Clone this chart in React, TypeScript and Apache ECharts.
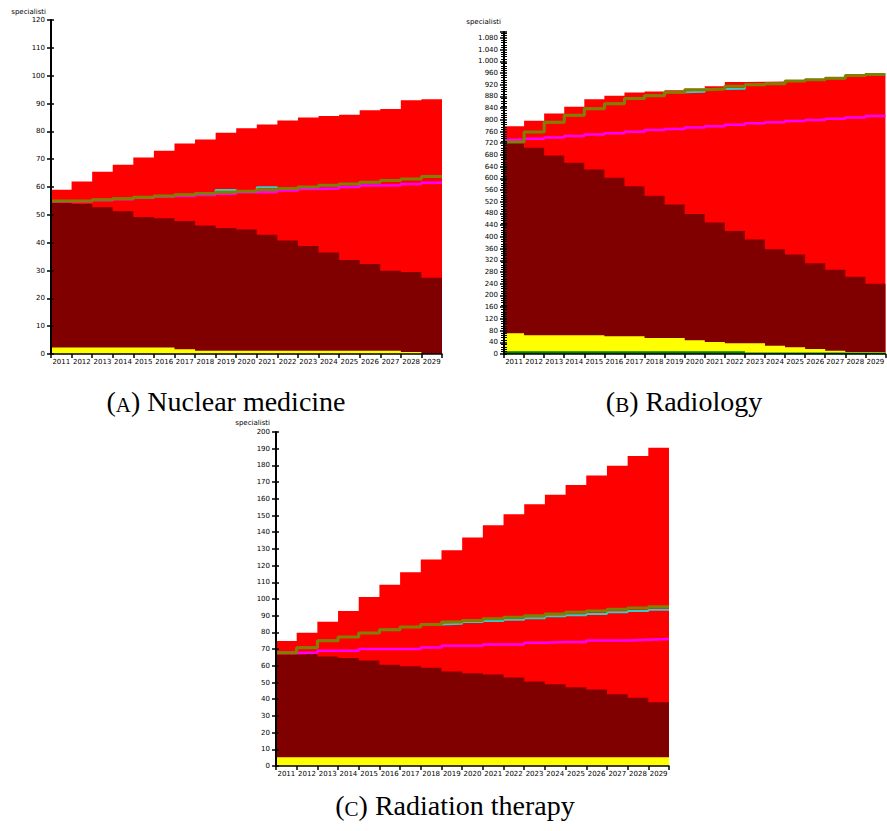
import React, { useEffect, useRef } from "react";
import * as echarts from "echarts";

// ---------- data ----------
const years = ["2011", "2012", "2013", "2014", "2015", "2016", "2017", "2018", "2019", "2020",
  "2021", "2022", "2023", "2024", "2025", "2026", "2027", "2028", "2029"];

// (A) Nuclear medicine
const nmRed = [59, 62, 65.5, 68, 70.6, 73, 75.6, 77.1, 79.5, 81.1, 82.5, 83.9, 85, 85.5, 86, 87.6, 88, 91.2, 91.5];
const nmMaroon = [54.4, 53.9, 52.7, 51.3, 49.2, 48.8, 47.8, 46.2, 45.3, 44.7, 42.8, 40.8, 38.8, 36.5, 33.8, 32.3, 29.9, 29.5, 27.4];
const nmYellow = [2.3, 2.3, 2.3, 2.3, 2.3, 2.3, 1.7, 1.2, 1.2, 1.2, 1.2, 1.2, 1.2, 1.2, 1.2, 1.2, 1.2, 0.7, 0];
const nmOlive = [55, 55, 55.4, 55.8, 56.3, 56.8, 57.2, 57.7, 58.1, 58.5, 59, 59.5, 60, 60.6, 61.1, 61.7, 62.3, 62.9, 63.8];
const nmCyan = [55, 55, 55.4, 55.8, 56.3, 56.8, 57.2, 57.7, 58.9, 58.5, 59.9, 59.5, 60, 60.6, 61.1, 61.7, 62.3, 62.9, 63.8];
const nmMagenta = [54.8, 54.9, 55.2, 55.6, 56.1, 56.5, 56.8, 57.1, 57.6, 58.1, 58.2, 58.7, 59.3, 59.5, 60, 60.5, 60.6, 61.1, 61.5];

// (B) Radiology
const radRed = [778, 797, 822, 845, 870, 882, 893, 897, 901, 906, 915, 929, 930, 931, 931, 935, 940, 949, 952];
const radMaroon = [721, 705, 678, 653, 630, 602, 573, 541, 511, 478, 449, 420, 391, 358, 340, 310, 288, 264, 240];
const radYellow = [71, 64, 64, 64, 64, 60.5, 60.5, 55, 55, 47, 41, 36.5, 36.5, 28.5, 23, 17, 11, 6.5, 6.5];
const radGreen = [9, 9, 9, 9, 9, 9, 9, 9, 9, 9, 9, 9, 5, 5, 5, 5, 5, 5, 5];
const radOlive = [724, 758, 792, 816, 838, 855, 873, 882, 894, 903, 905, 915, 920, 923, 933, 937, 942, 951, 955];
const radCyan = [724, 758, 792, 816, 838, 855, 873, 882, 894, 896, 905, 906, 920, 923, 933, 937, 942, 951, 955];
const radMagenta = [732, 735, 740, 745, 750, 754, 759, 765, 769, 774, 778, 783, 788, 792, 796, 799, 804, 808, 813];

// (C) Radiation therapy
const rtRed = [74.8, 79.8, 86.4, 92.8, 101.2, 108.6, 116, 123.6, 129.2, 136.8, 144.2, 150.8, 156.8, 162.4, 168.2, 174, 179.8, 185.6, 190.6];
const rtMaroon = [66.8, 67, 65.6, 64.6, 63.2, 60.6, 59.8, 58.8, 56.6, 55.6, 54.8, 53, 50.6, 49, 47.2, 45.8, 43, 40.8, 38.2];
const rtYellow = [5.2, 5.2, 5.2, 5.2, 5.2, 5.2, 5.2, 5.2, 5.2, 5.2, 5.2, 5.2, 5.2, 5.2, 5.2, 5.2, 5.2, 5.2, 5.2];
const rtOlive = [67.8, 70.8, 75, 77.2, 79.6, 81.6, 83.2, 84.8, 86.2, 87.2, 88.2, 89, 90, 91, 92, 92.8, 93.8, 94.6, 95.4];
const rtCyan = [67.8, 70.8, 75, 77.2, 79.6, 81.6, 83.2, 84.8, 85.2, 86.2, 86.8, 87.6, 88.4, 89.6, 90.2, 91, 92, 92.8, 93.6];
const rtMagenta = [67.6, 68, 69, 69, 70, 70, 70, 71, 72, 72, 72.8, 72.8, 73.8, 74.2, 74.2, 75.2, 75.2, 75.6, 76];

const axisName = "specialisti";
const captions = [
  { letter: "A", title: " Nuclear medicine" },
  { letter: "B", title: " Radiology" },
  { letter: "C", title: " Radiation therapy" },
];

// ---------- helpers ----------
const fmt = (v: number) =>
  v >= 1000 ? `${Math.floor(v / 1000)}.${String(v % 1000).padStart(3, "0")}` : String(v);

const steps = (vals: number[]) => {
  const pts = vals.map((v, i) => [i, v]);
  pts.push([vals.length, vals[vals.length - 1]]);
  return pts;
};

const COLORS = {
  red: "#ff0000",
  maroon: "#800000",
  yellow: "#ffff00",
  green: "#008000",
  olive: "#808000",
  cyan: "#33cccc",
  magenta: "#ff00ff",
};

const panels = [
  {
    grid: { left: 51, top: 20, width: 391, height: 334 },
    max: 120, interval: 10, minor: false,
    red: nmRed, maroon: nmMaroon, yellow: nmYellow, green: null as number[] | null,
    olive: nmOlive, cyan: nmCyan, magenta: nmMagenta,
    name: { x: 46, y: 12 },
    caption: { x: 226, y: 401 },
  },
  {
    grid: { left: 504, top: 32, width: 393, height: 322 },
    max: 1100, interval: 40, minor: true,
    red: radRed, maroon: radMaroon, yellow: radYellow, green: radGreen,
    olive: radOlive, cyan: radCyan, magenta: radMagenta,
    name: { x: 501, y: 22 },
    caption: { x: 684, y: 401 },
  },
  {
    grid: { left: 276, top: 432, width: 393, height: 334 },
    max: 200, interval: 10, minor: false,
    red: rtRed, maroon: rtMaroon, yellow: rtYellow, green: null as number[] | null,
    olive: rtOlive, cyan: rtCyan, magenta: rtMagenta,
    name: { x: 270, y: 423 },
    caption: { x: 455, y: 805 },
  },
];

function buildOption() {
  const grid: any[] = [];
  const xAxis: any[] = [];
  const yAxis: any[] = [];
  const series: any[] = [];
  const graphic: any[] = [];
  const labelFont = { fontSize: 7, color: "#000", fontFamily: "DejaVu Sans" };

  panels.forEach((p, k) => {
    grid.push({ ...p.grid, containLabel: false });
    xAxis.push({
      gridIndex: k, type: "category", data: years, boundaryGap: true, z: 10,
      axisLine: { show: true, lineStyle: { color: "#000", width: 1.5 } },
      axisTick: { show: true, length: 4, lineStyle: { color: "#000", width: 1.5 } },
      axisLabel: { ...labelFont, interval: 0, margin: 4 },
      splitLine: { show: false },
    });
    xAxis.push({ gridIndex: k, type: "value", min: 0, max: years.length, show: false });
    yAxis.push({
      gridIndex: k, type: "value", position: "left", min: 0, max: p.max, interval: p.interval, z: 10,
      axisLine: { show: true, lineStyle: { color: "#000", width: 2 } },
      axisTick: { show: true, length: 4, lineStyle: { color: "#000", width: 1.5 } },
      minorTick: { show: p.minor, splitNumber: 5, length: 3, lineStyle: { color: "#000", width: 1 } },
      axisLabel: { ...labelFont, margin: 6, formatter: fmt, showMaxLabel: k !== 1 },
      splitLine: { show: false },
      minorSplitLine: { show: false },
    });
    yAxis.push({
      gridIndex: k, type: "value", position: "left", offset: 0, min: 0, max: p.max, interval: p.interval, z: 10,
      axisLine: { show: false, onZero: false },
      axisTick: { show: true, inside: true, length: 3, lineStyle: { color: "#000", width: 1.5 } },
      minorTick: { show: p.minor, splitNumber: 5, length: 3, lineStyle: { color: "#000", width: 1 } },
      axisLabel: { show: false },
      splitLine: { show: false },
    });

    const xv = 2 * k + 1;
    const yi = 2 * k;
    const area = (name: string, data: number[], color: string, z: number) => ({
      name, type: "line", xAxisIndex: xv, yAxisIndex: yi, data: steps(data), step: "end",
      symbol: "none", showSymbol: false,
      lineStyle: { width: 0, color },
      areaStyle: { color, opacity: 1, origin: "start" },
      z, silent: true,
    });
    series.push(area("red", p.red, COLORS.red, 1));
    series.push(area("maroon", p.maroon, COLORS.maroon, 1));
    series.push(area("yellow", p.yellow, COLORS.yellow, 1));
    if (p.green) series.push(area("green", p.green, COLORS.green, 1));

    const line = (name: string, data: number[], color: string, width: number, z: number) => ({
      name, type: "line", xAxisIndex: xv, yAxisIndex: yi, data: steps(data), step: "end",
      symbol: "none", showSymbol: false, lineStyle: { color, width }, z, silent: true,
    });
    series.push(line("magenta", p.magenta, COLORS.magenta, 2.5, 3));
    series.push(line("cyan", p.cyan, COLORS.cyan, 2, 4));
    series.push(line("olive", p.olive, COLORS.olive, 3, 5));

    graphic.push({
      type: "text", x: p.name.x, y: p.name.y,
      style: { text: axisName, fontSize: 7, fontFamily: "DejaVu Sans", fill: "#000", align: "right", verticalAlign: "middle" },
    });
    const c = captions[k];
    graphic.push({
      type: "text", x: p.caption.x, y: p.caption.y,
      style: {
        text: `{a|(}{b|${c.letter}}{a|)${c.title}}`,
        align: "center", verticalAlign: "middle",
        rich: {
          a: { fontSize: 28, fontFamily: "Liberation Serif", fill: "#000", verticalAlign: "bottom" },
          b: { fontSize: 21, fontFamily: "Liberation Serif", fill: "#000", verticalAlign: "bottom" },
        },
      },
    });
  });

  return {
    animation: false,
    backgroundColor: "#ffffff",
    grid, xAxis, yAxis, series, graphic,
  };
}

export default function App() {
  const ref = useRef<HTMLDivElement>(null);
  useEffect(() => {
    if (!ref.current) return;
    const chart = echarts.init(ref.current, undefined, { renderer: "svg" });
    chart.setOption(buildOption() as any);
    return () => chart.dispose();
  }, []);
  return (
    <div
      ref={ref}
      style={{ position: "absolute", left: 0, top: 0, width: 887, height: 831, background: "#fff" }}
    />
  );
}
